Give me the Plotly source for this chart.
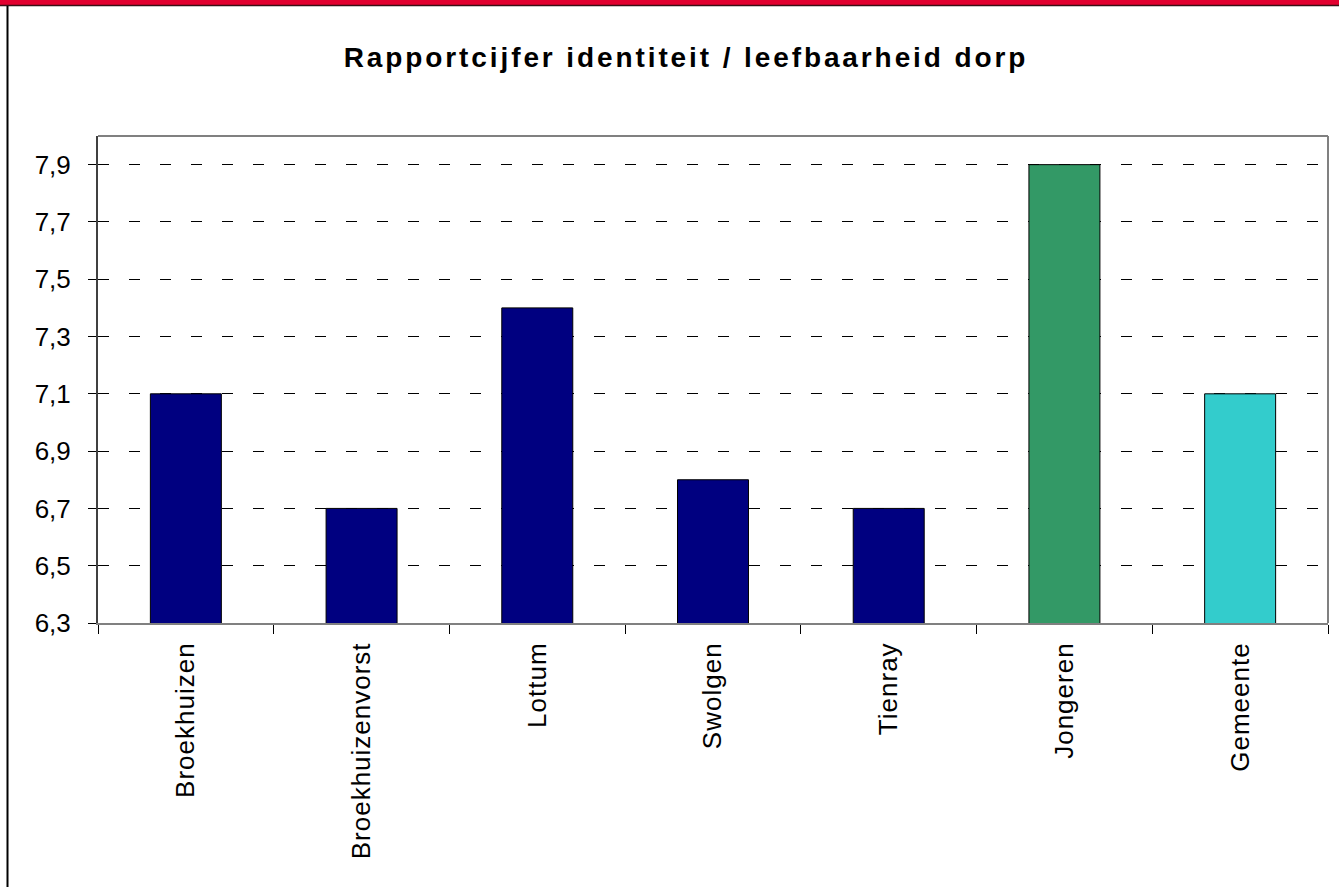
import plotly.graph_objects as go

categories = ["Broekhuizen", "Broekhuizenvorst", "Lottum", "Swolgen", "Tienray", "Jongeren", "Gemeente"]
values = [7.1, 6.7, 7.4, 6.8, 6.7, 7.9, 7.1]
bar_colors = ["#000080", "#000080", "#000080", "#000080", "#000080", "#339966", "#33CCCC"]
y_ticks = [6.3, 6.5, 6.7, 6.9, 7.1, 7.3, 7.5, 7.7, 7.9]
y_tick_labels = ["6,3", "6,5", "6,7", "6,9", "7,1", "7,3", "7,5", "7,7", "7,9"]
title_text = "Rapportcijfer identiteit / leefbaarheid dorp"

W, H = 1339, 887
L, R, T, B = 98, 11, 136, 264
pw, ph = W - L - R, H - T - B

def px(x):
    return (x - L) / pw

def py(y):
    return (H - B - y) / ph

FONT = "Liberation Sans, Arial, sans-serif"

fig = go.Figure()
fig.add_trace(go.Bar(
    x=categories, y=values,
    marker=dict(color=bar_colors, line=dict(color="#000000", width=1)),
    showlegend=False, hoverinfo="x+y",
))
# helper trace for the inner part of the y ticks
fig.add_trace(go.Scatter(x=[categories[0]], y=[None], yaxis="y2", showlegend=False,
                         mode="markers", hoverinfo="skip"))

fig.update_layout(
    width=W, height=H,
    margin=dict(l=L, r=R, t=T, b=B, autoexpand=False),
    paper_bgcolor="white", plot_bgcolor="white",
    bargap=0.596,
    font=dict(family=FONT, size=26, color="black"),
    title=dict(
        text="<b><span style='letter-spacing:2.9px'>" + title_text + "</span></b>",
        font=dict(family=FONT, size=28, color="black"),
        x=686 / W, xref="container", xanchor="center",
        y=1 - 57 / H, yref="container", yanchor="middle",
    ),
    xaxis=dict(
        type="category", categoryorder="array", categoryarray=categories,
        tickmode="array", tickvals=categories,
        ticktext=["<span style='letter-spacing:1px'>" + c + "</span>" for c in categories],
        tickangle=-90, tickson="boundaries", ticks="outside", ticklen=9,
        tickcolor="#000000", tickwidth=1,
        showline=True, linecolor="#808080", linewidth=2,
        showgrid=False, tickfont=dict(family=FONT, size=26, color="black"),
        ticklabelstandoff=7,
    ),
    yaxis=dict(
        range=[6.3, 8.0], tickvals=y_ticks, ticktext=y_tick_labels,
        ticks="outside", ticklen=8, tickcolor="#000000", tickwidth=1,
        showline=True, linecolor="#404040", linewidth=2,
        showgrid=True, gridcolor="#000000", gridwidth=1, griddash="11px,20px",
        zeroline=False, tickfont=dict(family=FONT, size=26, color="black"),
        ticklabelstandoff=12,
    ),
    yaxis2=dict(
        overlaying="y", side="left", range=[6.3, 8.0], tickvals=y_ticks,
        ticks="inside", ticklen=11, tickcolor="#000000", tickwidth=1,
        showticklabels=False, showgrid=False, zeroline=False, showline=False,
    ),
    shapes=[
        # plot frame top and right
        dict(type="line", xref="paper", yref="paper", x0=0, x1=1, y0=1, y1=1,
             line=dict(color="#808080", width=2)),
        dict(type="line", xref="paper", yref="paper", x0=1, x1=1, y0=0, y1=1,
             line=dict(color="#808080", width=2)),
        # red band at top of page
        dict(type="rect", xref="paper", yref="paper", x0=px(0), x1=px(W), y0=py(0), y1=py(5),
             fillcolor="#E2002F", line=dict(width=0), layer="above"),
        dict(type="line", xref="paper", yref="paper", x0=px(0), x1=px(W), y0=py(5.5), y1=py(5.5),
             line=dict(color="#3A1015", width=1.5)),
        # black line at left of page
        dict(type="line", xref="paper", yref="paper", x0=px(7.5), x1=px(7.5), y0=py(6), y1=py(H),
             line=dict(color="#000000", width=2)),
    ],
)

fig.write_html("out.html", config={"displayModeBar": False},
               post_script="document.body.style.margin='0';document.body.style.overflow='hidden';")
